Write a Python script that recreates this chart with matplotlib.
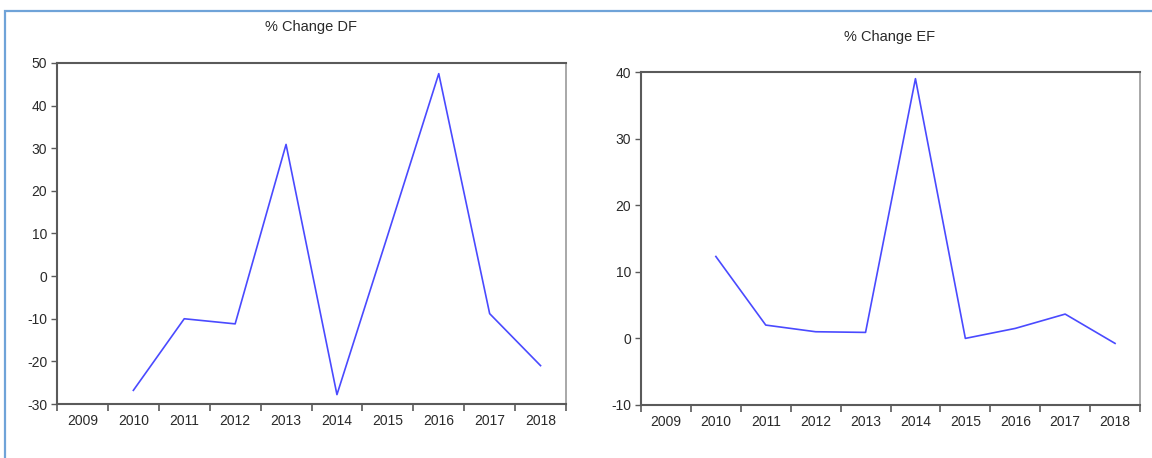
import matplotlib.pyplot as plt
from matplotlib.patches import Rectangle

plt.rcParams['font.family'] = ['Liberation Sans', 'DejaVu Sans']
plt.rcParams['axes.unicode_minus'] = False

years = ['2009', '2010', '2011', '2012', '2013', '2014', '2015', '2016', '2017', '2018']

# first year has no % change
df_change = [None, -26.8, -10.0, -11.2, 30.9, -27.8, 9.7, 47.5, -8.8, -21.0]
ef_change = [None, 12.3, 2.0, 1.0, 0.9, 39.0, 0.0, 1.5, 3.65, -0.75]

df_yticks = [-30, -20, -10, 0, 10, 20, 30, 40, 50]
ef_yticks = [-10, 0, 10, 20, 30, 40]

line_color = '#4a4aff'
spine_color = '#5a5a5a'
text_color = '#2a2a2a'


def draw_panel(ax, values, yticks, title, title_xy):
    x = [i for i, v in enumerate(values) if v is not None]
    y = [v for v in values if v is not None]
    ax.plot(x, y, color=line_color, lw=1.2)

    ax.set_xlim(-0.5, len(years) - 0.5)
    ax.set_ylim(yticks[0], yticks[-1])
    ax.set_yticks(yticks)

    # ticks on category boundaries, labels centred in between
    ax.set_xticks([i - 0.5 for i in range(len(years) + 1)])
    ax.set_xticklabels([])
    ax.set_xticks(range(len(years)), minor=True)
    ax.set_xticklabels(years, minor=True)
    ax.tick_params(axis='x', which='major', length=5, width=1.2, color=spine_color)
    ax.tick_params(axis='x', which='minor', length=0, pad=7, labelsize=10, labelcolor=text_color)
    ax.tick_params(axis='y', length=4, width=1.0, pad=3, color=spine_color, labelsize=10,
                   labelcolor=text_color)

    for name, sp in ax.spines.items():
        sp.set_color(spine_color)
        sp.set_linewidth(1.5)
    ax.spines['right'].set_color('#9a9a9a')
    ax.spines['right'].set_linewidth(1.2)

    fig.text(title_xy[0], title_xy[1], title, ha='center', va='center',
             fontsize=10.5, color=text_color)


fig = plt.figure(figsize=(11.52, 4.58), dpi=100)

ax1 = fig.add_axes([57 / 1152, 1 - 404 / 458, 509 / 1152, 341 / 458])
ax2 = fig.add_axes([641 / 1152, 1 - 405 / 458, 499 / 1152, 333 / 458])

draw_panel(ax1, df_change, df_yticks, '% Change DF', (311 / 1152, 1 - 27 / 458))
draw_panel(ax2, ef_change, ef_yticks, '% Change EF', (890 / 1152, 1 - 37 / 458))

# light blue frame around the whole picture
frame = Rectangle((5 / 1152, -0.1), 1.2, 1.1 - 11 / 458, transform=fig.transFigure,
                  fill=False, edgecolor='#6fa3d8', lw=1.6)
fig.patches.append(frame)

fig.savefig('out.png', dpi=100)
